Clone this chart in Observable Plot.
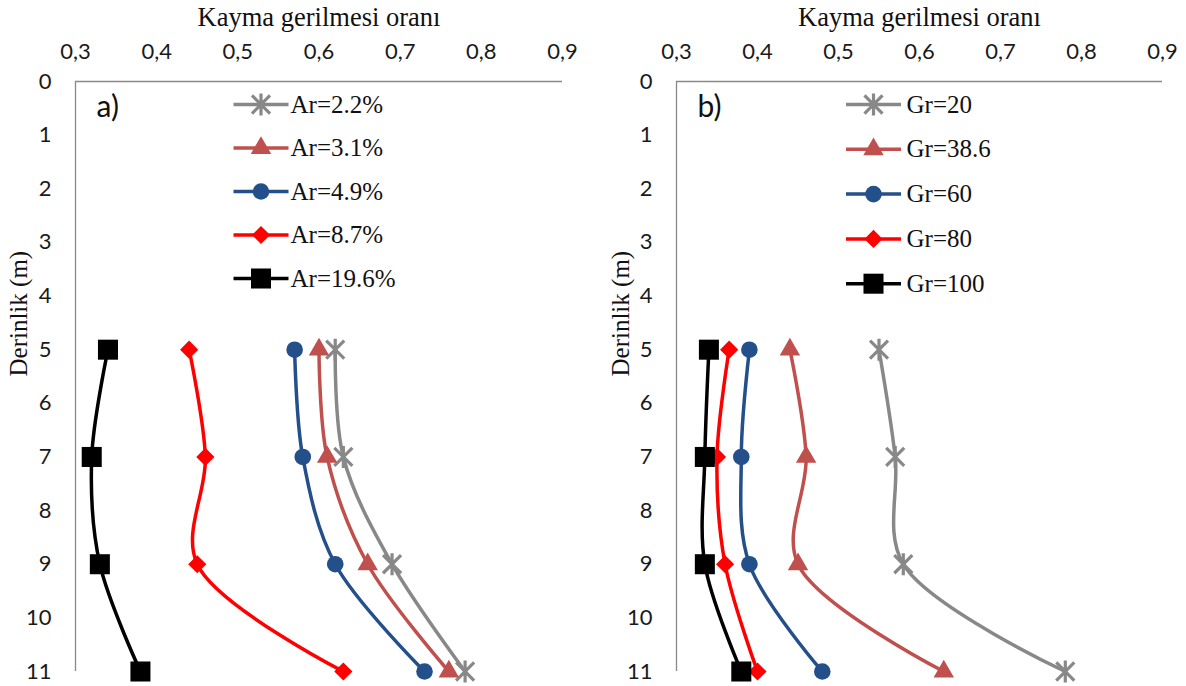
<!DOCTYPE html>
<html><head><meta charset="utf-8">
<script src="https://cdn.jsdelivr.net/npm/d3@7"></script>
<script src="https://cdn.jsdelivr.net/npm/@observablehq/plot@0.6"></script>
<style>
html,body{margin:0;padding:0;background:#fff;}
#wrap{display:flex;width:1186px;height:686px;}
#wrap svg{display:block;}
</style></head><body><div id="wrap"></div>
<script>
// ---- data ----
const depths = [5, 7, 9, 11];
const xTicks = [0.3, 0.4, 0.5, 0.6, 0.7, 0.8, 0.9];
const yTicks = [0, 1, 2, 3, 4, 5, 6, 7, 8, 9, 10, 11];
const xTitle = "Kayma gerilmesi oranı";
const yTitle = "Derinlik (m)";

const arNames = ["Ar=2.2%", "Ar=3.1%", "Ar=4.9%", "Ar=8.7%", "Ar=19.6%"];
const ar22  = [0.62, 0.63, 0.69, 0.78];
const ar31  = [0.60, 0.61, 0.66, 0.76];
const ar49  = [0.57, 0.58, 0.62, 0.73];
const ar87  = [0.44, 0.46, 0.45, 0.63];
const ar196 = [0.34, 0.32, 0.33, 0.38];

const grNames = ["Gr=20", "Gr=38.6", "Gr=60", "Gr=80", "Gr=100"];
const gr20  = [0.55, 0.57, 0.58, 0.78];
const gr386 = [0.44, 0.46, 0.45, 0.63];
const gr60  = [0.39, 0.38, 0.39, 0.48];
const gr80  = [0.365, 0.35, 0.36, 0.40];
const gr100 = [0.34, 0.335, 0.335, 0.38];

// ---- styles ----
const colors = ["#888888", "#C0504D", "#234F8A", "#FF0000", "#000000"];
const starSymbol = {draw(ctx, size) {
  const r = Math.sqrt(size / Math.PI), d = r * 0.82;
  ctx.moveTo(-d, -d); ctx.lineTo(d, d);
  ctx.moveTo(d, -d); ctx.lineTo(-d, d);
  ctx.moveTo(0, -r); ctx.lineTo(0, r);
}};
const lineSymbol = {draw(ctx) { ctx.moveTo(-27.5, 0); ctx.lineTo(27.5, 0); }};
const symbols = [starSymbol, "triangle", "circle", "diamond2", "square"];
const radii = [11, 7.6, 8.3, 8.2, 11.3];
const fills = ["none", colors[1], colors[2], colors[3], colors[4]];
const strokes = [colors[0], "none", "none", "none", "none"];
const strokeW = [3.2, 0, 0, 0, 0];
const serif = "'Liberation Serif', 'Times New Roman', serif";
const sans = "Lato, 'Open Sans', sans-serif";

function panel({names, series, tag, ml, mr, lineDx, textDx, legendStep, yTitleDx}) {
  const rows = series.flatMap((vals, i) => vals.map((v, j) => ({name: names[i], depth: depths[j], value: v})));
  const marks = [
    Plot.ruleY([0], {stroke: "#898989", strokeWidth: 1.3}),
    Plot.ruleX([0.3], {stroke: "#898989", strokeWidth: 1.3}),
    Plot.axisX({anchor: "top", ticks: xTicks, tickSize: 0, tickPadding: 23,
      tickFormat: d => d.toFixed(1).replace(".", ","), label: null,
      fontSize: 22, fontFamily: sans, fill: "#1a1a1a"}),
    Plot.axisY({anchor: "left", ticks: yTicks, tickSize: 0, tickPadding: 24, label: null,
      tickFormat: d => String(d), fontSize: 22, fontFamily: sans, fill: "#1a1a1a"}),
    Plot.text([xTitle], {frameAnchor: "top", dy: -64, lineAnchor: "middle", fontFamily: serif, fontSize: 26.5, fill: "#111"}),
    Plot.text([yTitle], {frameAnchor: "left", dx: yTitleDx, rotate: -90, lineAnchor: "middle", fontFamily: serif, fontSize: 25, fill: "#111"}),
    Plot.text([tag], {frameAnchor: "top-left", dx: 21, dy: 26, lineAnchor: "middle", textAnchor: "start", fontFamily: sans, fontSize: 30, fill: "#111"})
  ];
  names.forEach((name, i) => {
    const d = rows.filter(r => r.name === name);
    marks.push(Plot.line(d, {x: "value", y: "depth", stroke: colors[i], strokeWidth: 3.5, curve: "catmull-rom"}));
    marks.push(Plot.dot(d, {x: "value", y: "depth", symbol: symbols[i], r: radii[i], fill: fills[i], stroke: strokes[i], strokeWidth: strokeW[i]}));
    const dy = 23 + i * legendStep;
    marks.push(Plot.dot([name], {frameAnchor: "top-left", dx: lineDx, dy, symbol: lineSymbol, r: 5, stroke: colors[i], strokeWidth: 3.5, fill: "none"}));
    marks.push(Plot.dot([name], {frameAnchor: "top-left", dx: lineDx, dy, symbol: symbols[i], r: radii[i], fill: fills[i], stroke: strokes[i], strokeWidth: strokeW[i]}));
    marks.push(Plot.text([name], {frameAnchor: "top-left", dx: textDx, dy, lineAnchor: "middle", textAnchor: "start", fontFamily: serif, fontSize: 25, fill: "#111"}));
  });
  return Plot.plot({
    width: 593, height: 686,
    marginLeft: ml, marginRight: mr, marginTop: 81, marginBottom: 15,
    style: {fontFamily: sans, fontSize: "22px", background: "#fff", overflow: "visible"},
    x: {domain: [0.3, 0.9]},
    y: {domain: [0, 11], reverse: true},
    marks
  });
}

const wrap = document.getElementById("wrap");
wrap.appendChild(panel({names: arNames, series: [ar22, ar31, ar49, ar87, ar196], tag: "a)",
  ml: 75, mr: 31, lineDx: 185.5, textDx: 215, legendStep: 43.5, yTitleDx: -57}));
wrap.appendChild(panel({names: grNames, series: [gr20, gr386, gr60, gr80, gr100], tag: "b)",
  ml: 83, mr: 24, lineDx: 197, textDx: 230, legendStep: 44.8, yTitleDx: -56}));
</script>
</body></html>
